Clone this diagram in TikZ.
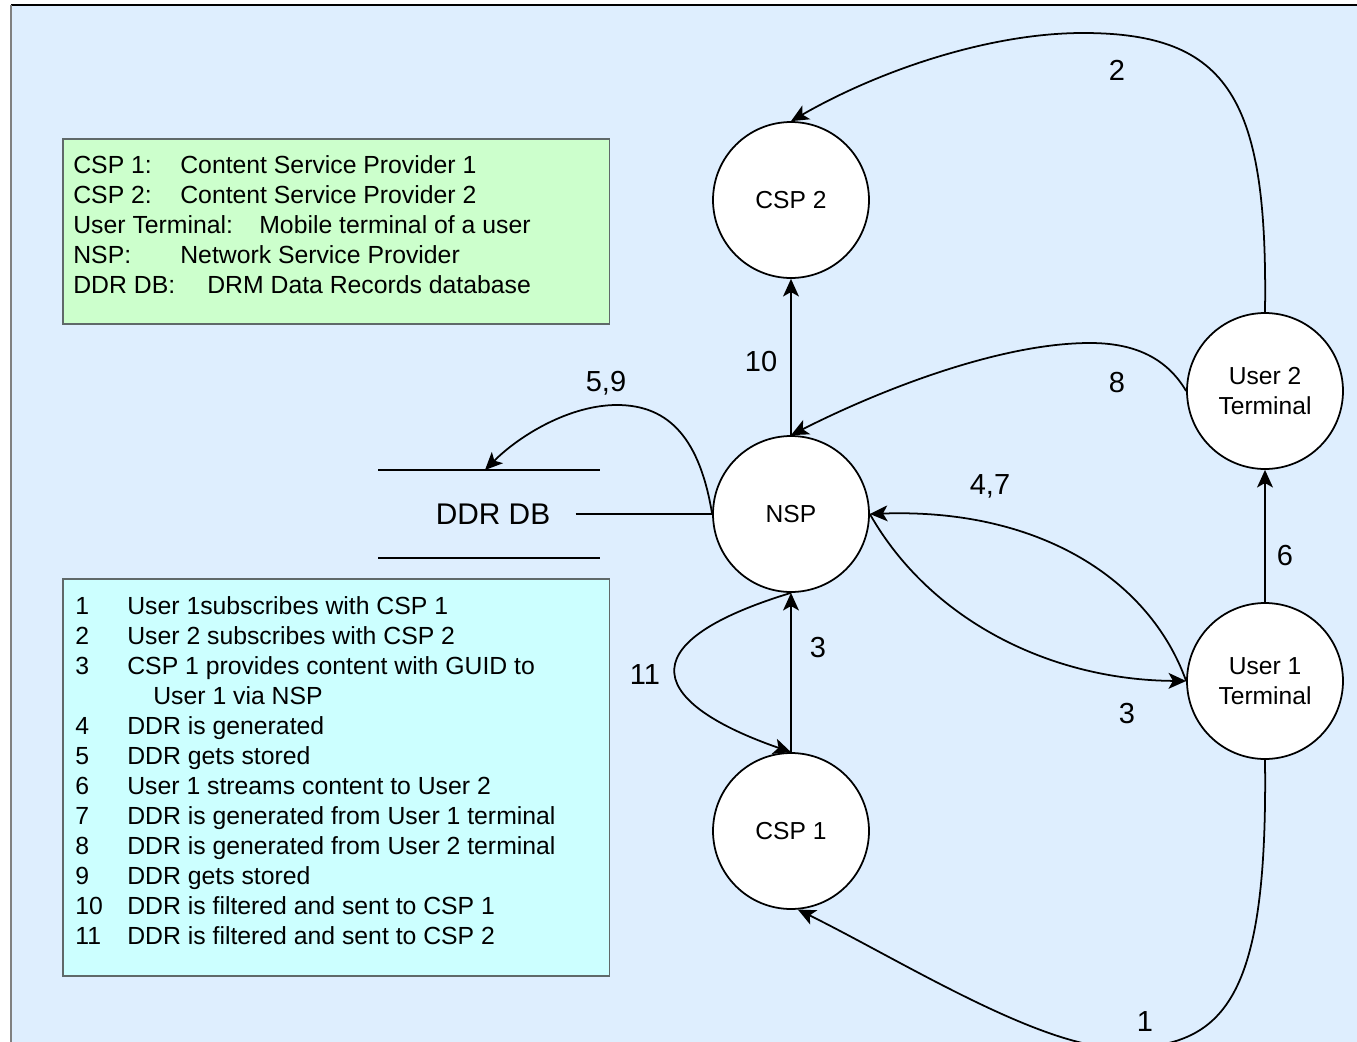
\documentclass[tikz,border=0pt]{standalone}
\usepackage{fontspec}
\setmainfont{Liberation Sans}
\usetikzlibrary{arrows.meta}
\definecolor{sheet}{RGB}{222,238,254}
\definecolor{keygreen}{RGB}{204,255,204}
\definecolor{stepcyan}{RGB}{204,255,255}
\definecolor{boxline}{RGB}{95,105,105}
\tikzset{
  party/.style={circle, draw, fill=white, line width=1pt, minimum size=3.12cm,
    inner sep=0pt, align=center, font=\fontsize{14}{17}\selectfont},
  flow/.style={line width=1pt, -{Stealth[length=10pt,width=9pt,inset=2.5pt]}},
  edgenum/.style={inner sep=0pt, font=\fontsize{16.5}{19}\selectfont},
  legend/.style={anchor=base west, inner sep=0pt, font=\fontsize{14.1}{17}\selectfont},
  keybox/.style={draw=boxline, line width=0.9pt, minimum width=10.94cm,
    anchor=north west, inner sep=0pt}
}
\begin{document}
\begin{tikzpicture}[x=0.02cm, y=-0.02cm]
\useasboundingbox (0,0) rectangle (1357,1042);
% sheet
\fill[sheet] (11,5) rectangle (1357,1042);
\draw[line width=1pt] (11,5) -- (1357,5);
\draw[gray, line width=1.5pt] (11,5) -- (11,1042);

% abbreviations
\node[keybox, fill=keygreen, minimum height=3.7cm] (abbrev) at (62,138) {};
\foreach \k/\v/\x [count=\i] in {CSP 1:/Content Service Provider 1/180,
    CSP 2:/Content Service Provider 2/180,
    User Terminal:/Mobile terminal of a user/259,
    NSP:/Network Service Provider/180,
    DDR DB:/DRM Data Records database/207}
{
  \node[legend] (key\i) at (73,143+30*\i) {\k};
  \node[legend] (val\i) at (\x,143+30*\i) {\v};
}

% steps
\node[keybox, fill=stepcyan, minimum height=7.94cm] (steps) at (62,578) {};
\foreach \n/\t/\l in {1/User 1subscribes with CSP 1/0,
    2/User 2 subscribes with CSP 2/1,
    3/CSP 1 provides content with GUID to/2,
    4/DDR is generated/4,
    5/DDR gets stored/5,
    6/User 1 streams content to User 2/6,
    7/DDR is generated from User 1 terminal/7,
    8/DDR is generated from User 2 terminal/8,
    9/DDR gets stored/9,
    10/DDR is filtered and sent to CSP 1/10,
    11/DDR is filtered and sent to CSP 2/11}
{
  \node[legend] (stepno\n) at (75,614+30*\l) {\n};
  \node[legend] (steptext\n) at (127,614+30*\l) {\t};
}
\node[legend] (steptext3b) at (153,704) {User 1 via NSP};

% parties
\node[party] (csp2) at (791,200) {CSP 2};
\node[party] (nsp) at (791,514) {NSP};
\node[party] (csp1) at (791,831) {CSP 1};
\node[party] (user2) at (1265,391) {User 2\\Terminal};
\node[party] (user1) at (1265,681) {User 1\\Terminal};

% data store
\node[font=\fontsize{17}{20}\selectfont, inner sep=0pt] (ddrdb) at (493,514) {DDR DB};
\draw[line width=1pt] (378,470) -- (600,470) (378,558) -- (600,558);
\coordinate (dbtop) at (485,470);
\draw[line width=1pt] ([xshift=0.5cm]ddrdb.east) -- (nsp.west);

% flows
\draw[flow] (user1.south) .. controls (1268,1000) and (1225,1048) .. (1120,1048)
  .. controls (1040,1048) and (900,960) .. (csp1.-85);
\draw[flow] (user2.north) .. controls (1268,100) and (1230,33) .. (1083,33)
  .. controls (990,33) and (880,70) .. (csp2.north);
\draw[flow] (user2.west) .. controls (1165,355) and (1130,343) .. (1090,343)
  .. controls (1000,343) and (880,390) .. (nsp.north);
\draw[flow] (user1.west) .. controls (1150,580) and (1040,508) .. (nsp.east);
\draw[flow] (nsp.east) .. controls (930,620) and (1050,680) .. (user1.west);
\draw[flow] (nsp.west) .. controls (700,440) and (670,405) .. (617,405)
  .. controls (570,405) and (520,435) .. (dbtop);
\draw[flow] (nsp.south) .. controls (620,645) and (655,705) .. (csp1.north);
\draw[flow] (nsp) -- (csp2);
\draw[flow] (csp1) -- (nsp);
\draw[flow] (user1) -- (user2);

% step numbers
\node[edgenum] (n1) at (1145,1022) {1};
\node[edgenum] (n2) at (1117,70) {2};
\node[edgenum] (n3a) at (818,648) {3};
\node[edgenum] (n3b) at (1127,714) {3};
\node[edgenum] (n47) at (990,486) {4,7};
\node[edgenum] (n59) at (606,383) {5,9};
\node[edgenum] (n6) at (1285,556) {6};
\node[edgenum] (n8) at (1117,383) {8};
\node[edgenum] (n10) at (761,362) {10};
\node[edgenum] (n11) at (645,675) {11};
\end{tikzpicture}
\end{document}
